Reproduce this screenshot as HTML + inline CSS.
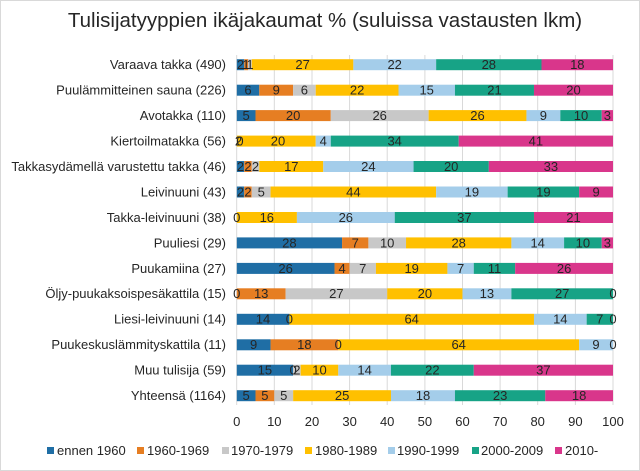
<!DOCTYPE html>
<html><head><meta charset="utf-8"><style>
html,body{margin:0;padding:0;background:#fff}
svg{display:block}
text{font-family:"Liberation Sans",Arial,sans-serif;fill:#262626}
</style></head><body>
<svg width="640" height="471" viewBox="0 0 640 471">
<rect x="0.5" y="0.5" width="639" height="470" fill="#fff" stroke="#d9d9d9"/>
<text x="325" y="27" font-size="20.5" text-anchor="middle">Tulisijatyyppien ikäjakaumat % (suluissa vastausten lkm)</text>
<g stroke="#d9d9d9" stroke-width="1">
<line x1="236.7" y1="55" x2="236.7" y2="405"/><line x1="274.3" y1="55" x2="274.3" y2="405"/><line x1="312" y1="55" x2="312" y2="405"/><line x1="349.6" y1="55" x2="349.6" y2="405"/><line x1="387.2" y1="55" x2="387.2" y2="405"/><line x1="424.9" y1="55" x2="424.9" y2="405"/><line x1="462.5" y1="55" x2="462.5" y2="405"/><line x1="500.1" y1="55" x2="500.1" y2="405"/><line x1="537.7" y1="55" x2="537.7" y2="405"/><line x1="575.4" y1="55" x2="575.4" y2="405"/><line x1="613" y1="55" x2="613" y2="405"/>
</g>
<svg x="236.7" y="0" width="376.3" height="471" viewBox="0 0 100 471" preserveAspectRatio="none">
<g transform="translate(0,-5.5)">
<rect x="0" y="64.7" width="2" height="11" fill="#1f6ea5"/><rect x="2" y="64.7" width="1" height="11" fill="#e67e22"/><rect x="3" y="64.7" width="1" height="11" fill="#c8c8c8"/><rect x="4" y="64.7" width="27" height="11" fill="#ffc000"/><rect x="31" y="64.7" width="22" height="11" fill="#a4cdea"/><rect x="53" y="64.7" width="28" height="11" fill="#17a386"/><rect x="81" y="64.7" width="19" height="11" fill="#d9368b"/>
<rect x="0" y="90.2" width="6" height="11" fill="#1f6ea5"/><rect x="6" y="90.2" width="9" height="11" fill="#e67e22"/><rect x="15" y="90.2" width="6" height="11" fill="#c8c8c8"/><rect x="21" y="90.2" width="22" height="11" fill="#ffc000"/><rect x="43" y="90.2" width="15" height="11" fill="#a4cdea"/><rect x="58" y="90.2" width="21" height="11" fill="#17a386"/><rect x="79" y="90.2" width="21" height="11" fill="#d9368b"/>
<rect x="0" y="115.6" width="5" height="11" fill="#1f6ea5"/><rect x="5" y="115.6" width="20" height="11" fill="#e67e22"/><rect x="25" y="115.6" width="26" height="11" fill="#c8c8c8"/><rect x="51" y="115.6" width="26" height="11" fill="#ffc000"/><rect x="77" y="115.6" width="9" height="11" fill="#a4cdea"/><rect x="86" y="115.6" width="11" height="11" fill="#17a386"/><rect x="97" y="115.6" width="3" height="11" fill="#d9368b"/>
<rect x="0" y="141.1" width="21" height="11" fill="#ffc000"/><rect x="21" y="141.1" width="4" height="11" fill="#a4cdea"/><rect x="25" y="141.1" width="34" height="11" fill="#17a386"/><rect x="59" y="141.1" width="41" height="11" fill="#d9368b"/>
<rect x="0" y="166.5" width="2" height="11" fill="#1f6ea5"/><rect x="2" y="166.5" width="2" height="11" fill="#e67e22"/><rect x="4" y="166.5" width="2" height="11" fill="#c8c8c8"/><rect x="6" y="166.5" width="17" height="11" fill="#ffc000"/><rect x="23" y="166.5" width="24" height="11" fill="#a4cdea"/><rect x="47" y="166.5" width="20" height="11" fill="#17a386"/><rect x="67" y="166.5" width="33" height="11" fill="#d9368b"/>
<rect x="0" y="192" width="2" height="11" fill="#1f6ea5"/><rect x="2" y="192" width="2" height="11" fill="#e67e22"/><rect x="4" y="192" width="5" height="11" fill="#c8c8c8"/><rect x="9" y="192" width="44" height="11" fill="#ffc000"/><rect x="53" y="192" width="19" height="11" fill="#a4cdea"/><rect x="72" y="192" width="19" height="11" fill="#17a386"/><rect x="91" y="192" width="9" height="11" fill="#d9368b"/>
<rect x="0" y="217.5" width="16" height="11" fill="#ffc000"/><rect x="16" y="217.5" width="26" height="11" fill="#a4cdea"/><rect x="42" y="217.5" width="37" height="11" fill="#17a386"/><rect x="79" y="217.5" width="21" height="11" fill="#d9368b"/>
<rect x="0" y="242.9" width="28" height="11" fill="#1f6ea5"/><rect x="28" y="242.9" width="7" height="11" fill="#e67e22"/><rect x="35" y="242.9" width="10" height="11" fill="#c8c8c8"/><rect x="45" y="242.9" width="28" height="11" fill="#ffc000"/><rect x="73" y="242.9" width="14" height="11" fill="#a4cdea"/><rect x="87" y="242.9" width="10" height="11" fill="#17a386"/><rect x="97" y="242.9" width="3" height="11" fill="#d9368b"/>
<rect x="0" y="268.4" width="26" height="11" fill="#1f6ea5"/><rect x="26" y="268.4" width="4" height="11" fill="#e67e22"/><rect x="30" y="268.4" width="7" height="11" fill="#c8c8c8"/><rect x="37" y="268.4" width="19" height="11" fill="#ffc000"/><rect x="56" y="268.4" width="7" height="11" fill="#a4cdea"/><rect x="63" y="268.4" width="11" height="11" fill="#17a386"/><rect x="74" y="268.4" width="26" height="11" fill="#d9368b"/>
<rect x="0" y="293.8" width="13" height="11" fill="#e67e22"/><rect x="13" y="293.8" width="27" height="11" fill="#c8c8c8"/><rect x="40" y="293.8" width="20" height="11" fill="#ffc000"/><rect x="60" y="293.8" width="13" height="11" fill="#a4cdea"/><rect x="73" y="293.8" width="27" height="11" fill="#17a386"/>
<rect x="0" y="319.3" width="14" height="11" fill="#1f6ea5"/><rect x="14" y="319.3" width="65" height="11" fill="#ffc000"/><rect x="79" y="319.3" width="14" height="11" fill="#a4cdea"/><rect x="93" y="319.3" width="7" height="11" fill="#17a386"/>
<rect x="0" y="344.8" width="9" height="11" fill="#1f6ea5"/><rect x="9" y="344.8" width="18" height="11" fill="#e67e22"/><rect x="27" y="344.8" width="64" height="11" fill="#ffc000"/><rect x="91" y="344.8" width="9" height="11" fill="#a4cdea"/>
<rect x="0" y="370.2" width="15" height="11" fill="#1f6ea5"/><rect x="15" y="370.2" width="2" height="11" fill="#c8c8c8"/><rect x="17" y="370.2" width="10" height="11" fill="#ffc000"/><rect x="27" y="370.2" width="14" height="11" fill="#a4cdea"/><rect x="41" y="370.2" width="22" height="11" fill="#17a386"/><rect x="63" y="370.2" width="37" height="11" fill="#d9368b"/>
<rect x="0" y="395.7" width="5" height="11" fill="#1f6ea5"/><rect x="5" y="395.7" width="5" height="11" fill="#e67e22"/><rect x="10" y="395.7" width="5" height="11" fill="#c8c8c8"/><rect x="15" y="395.7" width="26" height="11" fill="#ffc000"/><rect x="41" y="395.7" width="17" height="11" fill="#a4cdea"/><rect x="58" y="395.7" width="24" height="11" fill="#17a386"/><rect x="82" y="395.7" width="18" height="11" fill="#d9368b"/>
</g>
</svg>
<g font-size="13" text-anchor="end">
<text x="226" y="69">Varaava takka (490)</text>
<text x="226" y="94.5">Puulämmitteinen sauna (226)</text>
<text x="226" y="120">Avotakka (110)</text>
<text x="226" y="145.5">Kiertoilmatakka (56)</text>
<text x="226" y="171">Takkasydämellä  varustettu takka (46)</text>
<text x="226" y="196.5">Leivinuuni (43)</text>
<text x="226" y="222">Takka-leivinuuni (38)</text>
<text x="226" y="247.5">Puuliesi (29)</text>
<text x="226" y="273">Puukamiina (27)</text>
<text x="226" y="298">Öljy-puukaksoispesäkattila (15)</text>
<text x="226" y="323.5">Liesi-leivinuuni (14)</text>
<text x="226" y="349">Puukeskuslämmityskattila (11)</text>
<text x="226" y="374.5">Muu tulisija (59)</text>
<text x="226" y="400">Yhteensä (1164)</text>
</g>
<g font-size="13" text-anchor="middle">
<text x="240.5" y="69">2</text><text x="246" y="69">1</text><text x="250" y="69">1</text><text x="302.6" y="69">27</text><text x="394.7" y="69">22</text><text x="488.8" y="69">28</text><text x="577.3" y="69">18</text>
<text x="248" y="94.5">6</text><text x="276.2" y="94.5">9</text><text x="304.4" y="94.5">6</text><text x="357.1" y="94.5">22</text><text x="426.7" y="94.5">15</text><text x="494.5" y="94.5">21</text><text x="573.5" y="94.5">20</text>
<text x="246.1" y="120">5</text><text x="293.1" y="120">20</text><text x="379.7" y="120">26</text><text x="477.5" y="120">26</text><text x="543.4" y="120">9</text><text x="581" y="120">10</text><text x="607.4" y="120">3</text>
<text x="238.5" y="145.5">2</text><text x="240" y="145.5">0</text><text x="278" y="145.5">20</text><text x="323.2" y="145.5">4</text><text x="394.7" y="145.5">34</text><text x="535.9" y="145.5">41</text>
<text x="240.5" y="171">2</text><text x="248" y="171">2</text><text x="255.5" y="171">2</text><text x="291.3" y="171">17</text><text x="368.4" y="171">24</text><text x="451.2" y="171">20</text><text x="550.9" y="171">33</text>
<text x="240.5" y="196.5">2</text><text x="248" y="196.5">2</text><text x="261.2" y="196.5">5</text><text x="353.4" y="196.5">44</text><text x="471.9" y="196.5">19</text><text x="543.4" y="196.5">19</text><text x="596.1" y="196.5">9</text>
<text x="236.7" y="222">0</text><text x="266.8" y="222">16</text><text x="345.8" y="222">26</text><text x="464.4" y="222">37</text><text x="573.5" y="222">21</text>
<text x="289.4" y="247.5">28</text><text x="355.2" y="247.5">7</text><text x="387.2" y="247.5">10</text><text x="458.7" y="247.5">28</text><text x="537.7" y="247.5">14</text><text x="582.9" y="247.5">10</text><text x="607.4" y="247.5">3</text>
<text x="285.6" y="273">26</text><text x="342.1" y="273">4</text><text x="362.8" y="273">7</text><text x="411.7" y="273">19</text><text x="460.6" y="273">7</text><text x="494.5" y="273">11</text><text x="564.1" y="273">26</text>
<text x="236.7" y="298">0</text><text x="261.2" y="298">13</text><text x="336.4" y="298">27</text><text x="424.9" y="298">20</text><text x="486.9" y="298">13</text><text x="562.2" y="298">27</text><text x="613" y="298">0</text>
<text x="263" y="323.5">14</text><text x="289.4" y="323.5">0</text><text x="411.7" y="323.5">64</text><text x="560.3" y="323.5">14</text><text x="599.8" y="323.5">7</text><text x="613" y="323.5">0</text>
<text x="253.6" y="349">9</text><text x="304.4" y="349">18</text><text x="338.3" y="349">0</text><text x="458.7" y="349">64</text><text x="596" y="349">9</text><text x="613" y="349">0</text>
<text x="264.9" y="374.5">15</text><text x="293.1" y="374.5">0</text><text x="296.9" y="374.5">2</text><text x="319.5" y="374.5">10</text><text x="364.6" y="374.5">14</text><text x="432.4" y="374.5">22</text><text x="543.4" y="374.5">37</text>
<text x="246.1" y="400">5</text><text x="264.9" y="400">5</text><text x="283.7" y="400">5</text><text x="342.1" y="400">25</text><text x="423" y="400">18</text><text x="500.1" y="400">23</text><text x="579.1" y="400">18</text>
</g>
<g font-size="13" text-anchor="middle">
<text x="236.7" y="426">0</text><text x="274.3" y="426">10</text><text x="312" y="426">20</text><text x="349.6" y="426">30</text><text x="387.2" y="426">40</text><text x="424.9" y="426">50</text><text x="462.5" y="426">60</text><text x="500.1" y="426">70</text><text x="537.7" y="426">80</text><text x="575.4" y="426">90</text><text x="613" y="426">100</text>
</g>
<g font-size="13">
<rect x="47" y="447" width="7" height="7" fill="#1f6ea5"/><text x="57" y="455">ennen 1960</text>
<rect x="137" y="447" width="7" height="7" fill="#e67e22"/><text x="147" y="455">1960-1969</text>
<rect x="222" y="447" width="7" height="7" fill="#c8c8c8"/><text x="231" y="455">1970-1979</text>
<rect x="305" y="447" width="7" height="7" fill="#ffc000"/><text x="315" y="455">1980-1989</text>
<rect x="388" y="447" width="7" height="7" fill="#a4cdea"/><text x="397" y="455">1990-1999</text>
<rect x="472" y="447" width="7" height="7" fill="#17a386"/><text x="481" y="455">2000-2009</text>
<rect x="555" y="447" width="7" height="7" fill="#d9368b"/><text x="565" y="455">2010-</text>
</g>
</svg>
</body></html>
